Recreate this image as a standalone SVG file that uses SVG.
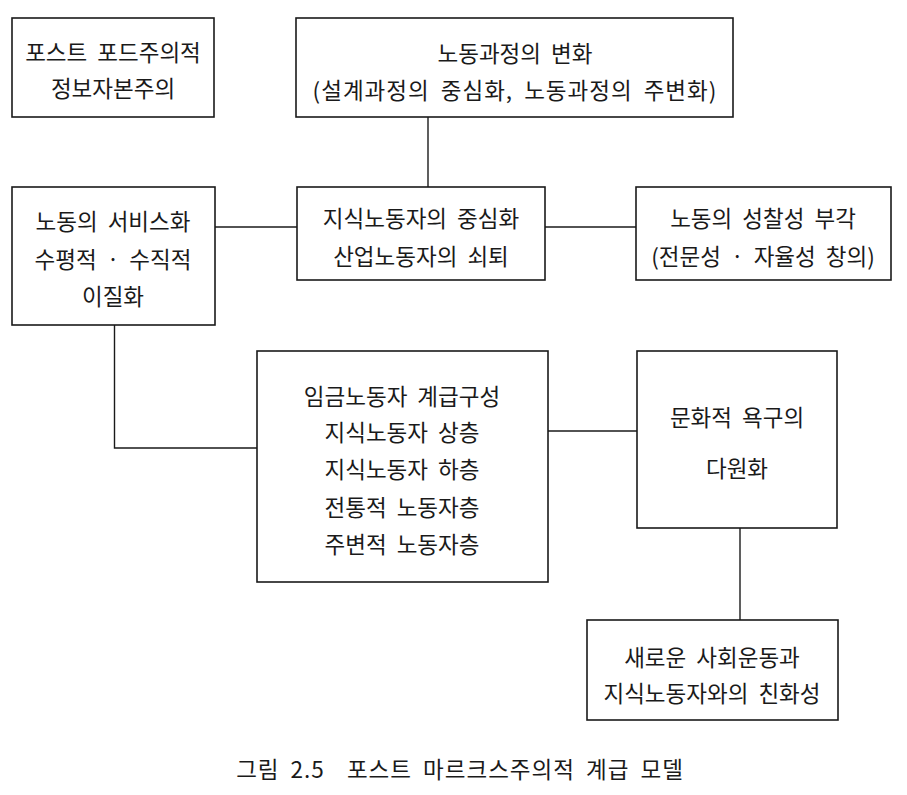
<svg xmlns="http://www.w3.org/2000/svg" width="907" height="795" viewBox="0 0 907 795">
<style>
.box{fill:#ffffff;stroke:#1a1a1a;stroke-width:1.6}
.ln{fill:none;stroke:#1a1a1a;stroke-width:1.4}
text{font-family:"Noto Sans CJK KR","Noto Sans CJK SC",sans-serif;font-size:22.5px;fill:#1a1a1a;text-anchor:middle;dominant-baseline:central;word-spacing:5px}
</style>
<rect width="907" height="795" fill="#ffffff"/>
<g id="connectors">
<line class="ln" x1="428" y1="117" x2="428" y2="187"/>
<line class="ln" x1="215" y1="227" x2="297" y2="227"/>
<line class="ln" x1="545" y1="227" x2="636" y2="227"/>
<polyline class="ln" points="114.5,325 114.5,448 257,448"/>
<line class="ln" x1="548" y1="431" x2="637" y2="431"/>
<line class="ln" x1="740" y1="528" x2="740" y2="620"/>
</g>
<g id="node-postford">
<rect class="box" x="12" y="18" width="202" height="99"/>
<text x="113" y="51">포스트 포드주의적</text>
<text x="113" y="87">정보자본주의</text>
</g>
<g id="node-laborprocess">
<rect class="box" x="296" y="18" width="437" height="99"/>
<text x="515" y="52">노동과정의 변화</text>
<text x="515" y="89" letter-spacing="1">(설계과정의 중심화, 노동과정의 주변화)</text>
</g>
<g id="node-service">
<rect class="box" x="12" y="187" width="203" height="138"/>
<text x="113" y="220">노동의 서비스화</text>
<text x="113" y="258">수평적 · 수직적</text>
<text x="113" y="295">이질화</text>
</g>
<g id="node-knowledge">
<rect class="box" x="297" y="187" width="248" height="93"/>
<text x="421" y="217">지식노동자의 중심화</text>
<text x="421" y="255">산업노동자의 쇠퇴</text>
</g>
<g id="node-reflexivity">
<rect class="box" x="636" y="187" width="255" height="93"/>
<text x="763" y="217">노동의 성찰성 부각</text>
<text x="763" y="255">(전문성 · 자율성 창의)</text>
</g>
<g id="node-wage">
<rect class="box" x="257" y="351" width="291" height="231"/>
<text x="402" y="395">임금노동자 계급구성</text>
<text x="402" y="431">지식노동자 상층</text>
<text x="402" y="468">지식노동자 하층</text>
<text x="402" y="506">전통적 노동자층</text>
<text x="402" y="543">주변적 노동자층</text>
</g>
<g id="node-culture">
<rect class="box" x="637" y="351" width="200" height="177"/>
<text x="737" y="416">문화적 욕구의</text>
<text x="737" y="467">다원화</text>
</g>
<g id="node-social">
<rect class="box" x="587" y="620" width="251" height="100"/>
<text x="712" y="656">새로운 사회운동과</text>
<text x="712" y="692">지식노동자와의 친화성</text>
</g>
<text id="caption" x="460" y="768" xml:space="preserve" letter-spacing="1">그림 2.5  포스트 마르크스주의적 계급 모델</text>
</svg>
